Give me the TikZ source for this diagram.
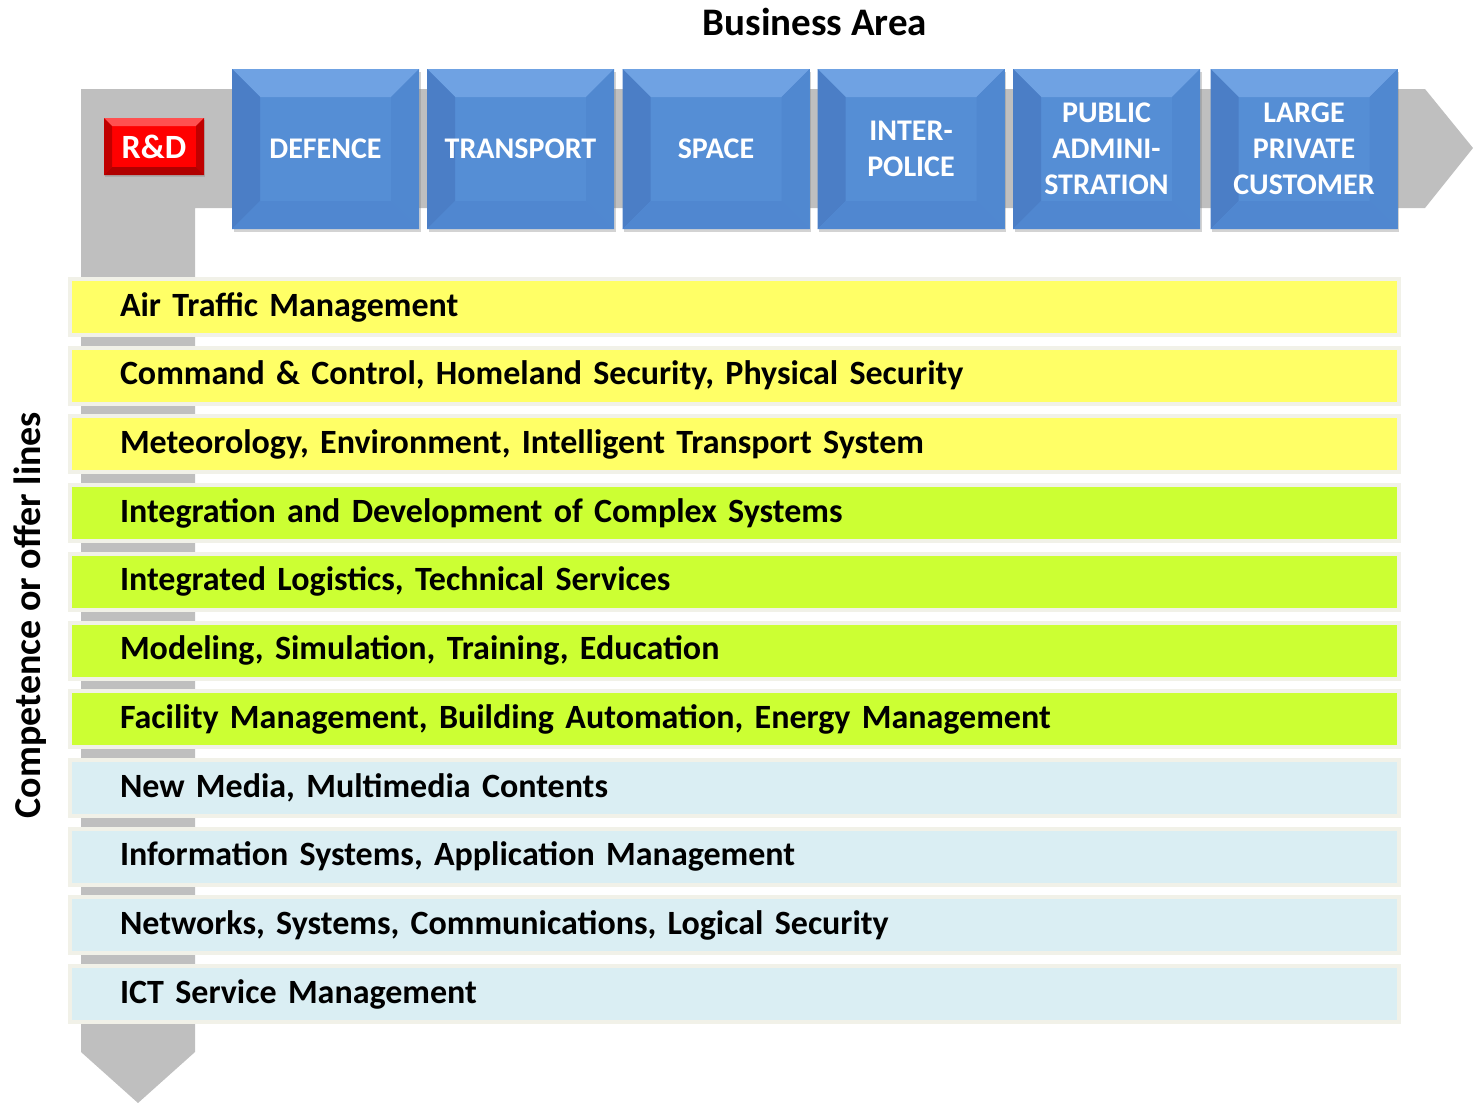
\documentclass[tikz,border=0pt]{standalone}
\usepackage{fontspec}
\setmainfont{Carlito}
\usetikzlibrary{calc,shadows}
\definecolor{arrowgray}{HTML}{BFBFBF}
\definecolor{boxblue}{HTML}{558ED5}
\definecolor{boxtop}{HTML}{6FA2E3}
\definecolor{boxleft}{HTML}{4B7EC6}
\definecolor{boxright}{HTML}{5088D0}
\definecolor{boxbottom}{HTML}{5087D0}
\definecolor{rdred}{HTML}{FF0000}
\definecolor{rdtop}{HTML}{FF5050}
\definecolor{rddark}{HTML}{B00000}
\definecolor{rowyellow}{HTML}{FFFF66}
\definecolor{rowgreen}{HTML}{CCFF33}
\definecolor{rowblue}{HTML}{DAEEF3}
\definecolor{rowborder}{HTML}{F1F1E8}
\tikzset{
  x=0.5pt, y=-0.5pt,
  bevel/.style args={#1/#2/#3/#4/#5}{path picture={
    \coordinate (nw) at (path picture bounding box.north west);
    \coordinate (ne) at (path picture bounding box.north east);
    \coordinate (sw) at (path picture bounding box.south west);
    \coordinate (se) at (path picture bounding box.south east);
    \fill[#1] (nw) -- (ne) -- ($(ne)+(-#5,-#5)$) -- ($(nw)+(#5,-#5)$) -- cycle;
    \fill[#2] (nw) -- ($(nw)+(#5,-#5)$) -- ($(sw)+(#5,#5)$) -- (sw) -- cycle;
    \fill[#3] (ne) -- ($(ne)+(-#5,-#5)$) -- ($(se)+(-#5,#5)$) -- (se) -- cycle;
    \fill[#4] (sw) -- ($(sw)+(#5,#5)$) -- ($(se)+(-#5,#5)$) -- (se) -- cycle;
  }},
  bizbox/.style={minimum width=93.5pt, minimum height=80pt, inner sep=0pt,
    fill=boxblue, text=white, align=center,
    font=\fontsize{15}{18}\selectfont\bfseries,
    bevel={boxtop/boxleft/boxright/boxbottom/14pt},
    drop shadow={opacity=0.35, shadow xshift=0.8pt, shadow yshift=-1.5pt}},
  rdbox/.style={minimum width=50pt, minimum height=28.5pt, inner sep=0pt,
    fill=rdred, text=white, font=\fontsize{17}{18}\selectfont\bfseries,
    bevel={rdtop/rddark!80!rdred/rddark!80!rdred/rddark/4pt},
    drop shadow={opacity=0.3, shadow xshift=0.6pt, shadow yshift=-0.8pt}},
  linerow/.style={draw=rowborder, line width=2pt, fill=#1,
    minimum height=28pt, inner xsep=25pt, inner ysep=0pt,
    text width=614.5pt, align=left, anchor=center,
    font=\fontsize{17}{20}\selectfont\bfseries},
  titletext/.style={font=\fontsize{19.5}{22}\selectfont\bfseries},
  sidetext/.style={font=\fontsize{19}{22}\selectfont\bfseries},
}
\begin{document}
\begin{tikzpicture}
\useasboundingbox (0,0) rectangle (1473,1103);
% gray L-shaped double arrow
\fill[arrowgray] (81,89) -- (1425,89) -- (1473,148) -- (1425,208) -- (195,208)
  -- (195,1052) -- (138,1103) -- (81,1052) -- cycle;
% title and side label
\node[titletext] (title) at (815,22) {Business Area};
\node[sidetext, rotate=90] (side) at (30,615) {Competence or offer lines};
% R&D
\node[rdbox] (rd) at (154,146.5) {R\&D};
% business area boxes
\node[bizbox] (defence) at (325.5,149) {DEFENCE};
\node[bizbox] (transport) at (520.5,149) {TRANSPORT};
\node[bizbox] (space) at (716,149) {SPACE};
\node[bizbox] (police) at (911,149) {INTER-\\POLICE};
\node[bizbox] (public) at (1106.5,149) {PUBLIC\\ADMINI-\\STRATION};
\node[bizbox] (private) at (1304,149) {LARGE\\PRIVATE\\CUSTOMER};
% competence lines
\node[linerow=rowyellow] (r1) at (734.5,307) {Air Traffic Management};
\node[linerow=rowyellow] (r2) at (734.5,375.7) {Command \& Control, Homeland Security, Physical Security};
\node[linerow=rowyellow] (r3) at (734.5,444.4) {Meteorology, Environment, Intelligent Transport System};
\node[linerow=rowgreen] (r4) at (734.5,513.1) {Integration and Development of Complex Systems};
\node[linerow=rowgreen] (r5) at (734.5,581.8) {Integrated Logistics, Technical Services};
\node[linerow=rowgreen] (r6) at (734.5,650.5) {Modeling, Simulation, Training, Education};
\node[linerow=rowgreen] (r7) at (734.5,719.2) {Facility Management, Building Automation, Energy Management};
\node[linerow=rowblue] (r8) at (734.5,787.9) {New Media, Multimedia Contents};
\node[linerow=rowblue] (r9) at (734.5,856.6) {Information Systems, Application Management};
\node[linerow=rowblue] (r10) at (734.5,925.3) {Networks, Systems, Communications, Logical Security};
\node[linerow=rowblue] (r11) at (734.5,994) {ICT Service Management};
\end{tikzpicture}
\end{document}
